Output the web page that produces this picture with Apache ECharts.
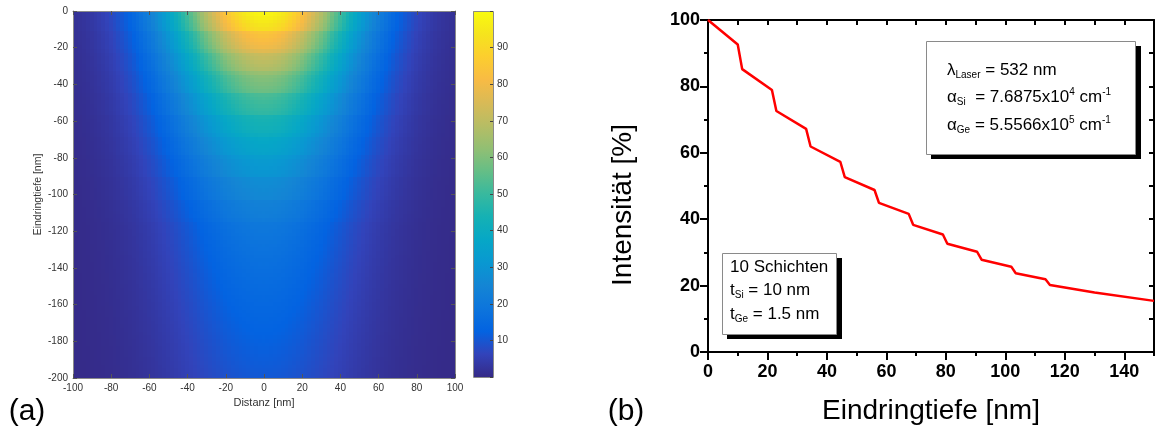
<!DOCTYPE html>
<html><head><meta charset="utf-8">
<script src="https://cdn.jsdelivr.net/npm/echarts@6/dist/echarts.min.js"></script>
<style>html,body{margin:0;padding:0;background:#fff}#c{width:1157px;height:437px}</style>
</head><body><div id="c"></div><script>
// ---------- DATA ----------
// (a) lateral beam profile (relative), x = -100 ... 100 nm, step 2 nm
const lateralProfile = [0.0169,0.0198,0.0232,0.0271,0.0316,0.0367,0.0424,0.0489,0.0561,0.0643,0.0734,0.0835,0.0946,0.1070,0.1205,0.1353,0.1515,0.1690,0.1879,0.2083,0.2301,0.2533,0.2780,0.3042,0.3317,0.3604,0.3905,0.4216,0.4538,0.4868,0.5205,0.5547,0.5892,0.6239,0.6584,0.6926,0.7261,0.7589,0.7905,0.8207,0.8494,0.8761,0.9008,0.9231,0.9429,0.9600,0.9742,0.9854,0.9935,0.9984,1.0000,
0.9984,0.9935,0.9854,0.9742,0.9600,0.9429,0.9231,0.9008,0.8761,0.8494,0.8207,0.7905,0.7589,0.7261,0.6926,0.6584,0.6239,0.5892,0.5547,0.5205,0.4868,0.4538,0.4216,0.3905,0.3604,0.3317,0.3042,0.2780,0.2533,0.2301,0.2083,0.1879,0.1690,0.1515,0.1353,0.1205,0.1070,0.0946,0.0835,0.0734,0.0643,0.0561,0.0489,0.0424,0.0367,0.0316,0.0271,0.0232,0.0198,0.0169];
// (a) intensity [%] on the beam axis vs depth 0 ... 200 nm, step 2 nm
const depthIntensity = [100,98.47,96.97,95.49,94.04,92.60,84.87,83.57,82.30,81.04,79.81,76.73,72.03,70.93,69.85,68.78,67.73,63.58,61.13,60.20,59.28,58.37,57.48,52.68,51.88,51.09,50.31,49.54,48.78,44.71,44.03,43.36,42.70,42.04,40.42,37.95,37.37,36.80,36.24,35.68,33.49,32.20,31.71,31.23,30.75,30.28,27.75,27.33,26.91,26.50,26.10,25.70,23.55,23.19,22.84,22.49,22.15,21.30,19.99,19.69,19.39,19.09,18.80,18.51,18.23,17.95,17.68,17.41,17.14,16.88,16.62,16.37,16.12,15.87,15.63,15.39,15.16,14.93,14.70,14.48,14.26,14.04,13.82,13.61,13.41,13.20,13.00,12.80,12.61,12.41,12.22,12.04,11.85,11.67,11.49,11.32,11.15,10.98,10.81,10.64,10.48];
const GRID_STEP_NM = 2;
const lateralX = lateralProfile.map((_, j) => -100 + GRID_STEP_NM * j);
const depthNm = depthIntensity.map((_, i) => GRID_STEP_NM * i);

// (b) intensity vs penetration depth
const curveDepth = [0,10,11.5,21.5,23,33,34.5,44.5,46,56,57.5,67.5,69,79,80.5,90.5,92,102,103.5,113.5,115,130,150];
const curveIntensity = [100,92.6,85.2,78.9,72.6,67.2,61.9,57.3,52.7,48.8,44.9,41.6,38.3,35.4,32.6,30.2,27.8,25.7,23.7,21.9,20.2,17.9,15.4];

// parula colormap stops
const parula = ['#352a87','#3243ba','#0363e1','#0d75dc','#1485d4','#0998d1','#06a7c6','#15b1b4','#38b99e','#65be86','#92bf73','#b7bd64','#d9ba56','#f8bb44','#fcce2e','#f5e41d','#f9fb0e'];

// ---------- BUILD ----------
const heatData = [];
depthIntensity.forEach((I, i) => {
  lateralProfile.forEach((g, j) => {
    heatData.push([lateralX[j], -depthNm[i], I * g]);
  });
});
const lineData = curveDepth.map((x, i) => [x, curveIntensity[i]]);

const FONT = '"Liberation Sans", Arial, Helvetica, sans-serif';
const half = GRID_STEP_NM / 2;
function renderCell(params, api) {
  const x = api.value(0), y = api.value(1);
  const a = api.coord([x - half, y + half]);
  const b = api.coord([x + half, y - half]);
  const x0 = Math.floor(a[0]), y0 = Math.floor(a[1]);
  return {
    type: 'rect',
    shape: { x: x0, y: y0, width: Math.ceil(b[0]) - x0, height: Math.ceil(b[1]) - y0 },
    style: { fill: api.visual('color') }
  };
}

const matAxisLine = { show: true, onZero: false, lineStyle: { color: '#8a8a8a', width: 1 } };
const matTick = { show: true, inside: true, length: 4, lineStyle: { color: '#555', width: 1 } };
const matLabel = { fontSize: 10, color: '#333', fontFamily: FONT };

const blk = { show: true, onZero: false, lineStyle: { color: '#000', width: 2 } };
const noLine = { show: false, onZero: false };
const boldLabel = { fontSize: 18, fontWeight: 'bold', color: '#000', fontFamily: FONT };

const gradStops = parula.map((c, i) => ({ offset: i / (parula.length - 1), color: c }));

const mainRich = {
  m: { fontSize: 17, lineHeight: 20, fontFamily: FONT, color: '#000' },
  s: { fontSize: 10, lineHeight: 8, fontFamily: FONT, color: '#000', verticalAlign: 'bottom' },
  p: { fontSize: 10, lineHeight: 8, fontFamily: FONT, color: '#000', verticalAlign: 'top' }
};
function richText(x, y, txt) {
  return { type: 'text', x: x, y: y, z: 30, style: { text: txt, rich: mainRich, align: 'left', verticalAlign: 'middle' } };
}

const option = {
  animation: false,
  backgroundColor: '#fff',
  grid: [
    { left: 73, top: 11, width: 382, height: 367 },
    { left: 708, top: 20, width: 446, height: 332 },
    { left: 473, top: 11, width: 20, height: 366 }
  ],
  visualMap: {
    type: 'continuous', show: false, min: 0, max: 100, dimension: 2, seriesIndex: 0,
    inRange: { color: parula }
  },
  xAxis: [
    { gridIndex: 0, type: 'value', min: -100, max: 100, interval: 20, position: 'bottom',
      axisLine: matAxisLine, axisTick: matTick, axisLabel: Object.assign({ margin: 5 }, matLabel), splitLine: { show: false },
      name: 'Distanz [nm]', nameLocation: 'middle', nameGap: 19,
      nameTextStyle: { fontSize: 11, color: '#333', fontFamily: FONT }, z: 10 },
    { gridIndex: 0, type: 'value', min: -100, max: 100, interval: 20, position: 'top',
      axisLine: matAxisLine, axisTick: matTick, axisLabel: { show: false }, splitLine: { show: false }, z: 10 },
    { gridIndex: 1, type: 'value', min: 0, max: 150, interval: 20, position: 'bottom',
      axisLine: blk, axisTick: { show: true, length: 8, lineStyle: { color: '#000', width: 2 } },
      axisLabel: Object.assign({ margin: 11, showMaxLabel: false }, boldLabel), splitLine: { show: false },
      name: 'Eindringtiefe [nm]', nameLocation: 'middle', nameGap: 45,
      nameTextStyle: { fontSize: 28, color: '#000', fontFamily: FONT } },
    { gridIndex: 1, type: 'value', min: 0, max: 150, interval: 10, position: 'bottom',
      axisLine: noLine, axisTick: { show: true, length: 4, lineStyle: { color: '#000', width: 2 } },
      axisLabel: { show: false }, splitLine: { show: false } },
    { gridIndex: 1, type: 'value', min: 0, max: 150, interval: 10, position: 'top',
      axisLine: blk, axisTick: { show: true, inside: true, length: 5, lineStyle: { color: '#000', width: 2 } },
      axisLabel: { show: false }, splitLine: { show: false } },
    { gridIndex: 2, type: 'value', min: 0, max: 1, show: false }
  ],
  yAxis: [
    { gridIndex: 0, type: 'value', min: -200, max: 0, interval: 20, position: 'left',
      axisLine: matAxisLine, axisTick: matTick, axisLabel: Object.assign({ margin: 5 }, matLabel), splitLine: { show: false },
      name: 'Eindringtiefe [nm]', nameLocation: 'middle', nameGap: 28,
      nameTextStyle: { fontSize: 10.5, color: '#333', fontFamily: FONT }, z: 10 },
    { gridIndex: 0, type: 'value', min: -200, max: 0, interval: 20, position: 'right',
      axisLine: matAxisLine, axisTick: matTick, axisLabel: { show: false }, splitLine: { show: false }, z: 10 },
    { gridIndex: 1, type: 'value', min: 0, max: 100, interval: 20, position: 'left',
      axisLine: blk, axisTick: { show: true, length: 8, lineStyle: { color: '#000', width: 2 } },
      axisLabel: Object.assign({ margin: 8 }, boldLabel), splitLine: { show: false } },
    { gridIndex: 1, type: 'value', min: 0, max: 100, interval: 10, position: 'left',
      axisLine: noLine, axisTick: { show: true, length: 4, lineStyle: { color: '#000', width: 2 } },
      axisLabel: { show: false }, splitLine: { show: false } },
    { gridIndex: 1, type: 'value', min: 0, max: 100, interval: 10, position: 'right',
      axisLine: blk, axisTick: { show: true, inside: true, length: 5, lineStyle: { color: '#000', width: 2 } },
      axisLabel: { show: false }, splitLine: { show: false } },
    { gridIndex: 2, type: 'value', min: 0, max: 100, interval: 10, position: 'right',
      axisLine: noLine, axisTick: { show: true, inside: true, length: 3, lineStyle: { color: '#444', width: 1 } },
      axisLabel: Object.assign({ margin: 4, formatter: v => (v > 0 && v < 100 ? String(v) : '') }, matLabel),
      splitLine: { show: false }, z: 40 }
  ],
  series: [
    { type: 'custom', xAxisIndex: 0, yAxisIndex: 0, data: heatData, renderItem: renderCell,
      clip: true, silent: true, progressive: 0, encode: { x: 0, y: 1 } },
    { type: 'line', xAxisIndex: 2, yAxisIndex: 2, data: lineData, showSymbol: false, clip: true,
      lineStyle: { color: '#ff0000', width: 2.5 }, z: 5 }
  ],
  graphic: [
    { type: 'rect', z: 20, shape: { x: 473, y: 11, width: 20, height: 366 },
      style: { fill: { type: 'linear', x: 0, y: 1, x2: 0, y2: 0, colorStops: gradStops } } },
    { type: 'rect', z: 25, shape: { x: 473.5, y: 11.5, width: 20, height: 366 },
      style: { fill: 'none', stroke: '#8a8a8a', lineWidth: 1 } },
    { type: 'text', x: 27, y: 412, z: 30, style: { text: '(a)', fontSize: 30, fontFamily: FONT, fill: '#000', align: 'center', verticalAlign: 'middle' } },
    { type: 'text', x: 626, y: 412, z: 30, style: { text: '(b)', fontSize: 30, fontFamily: FONT, fill: '#000', align: 'center', verticalAlign: 'middle' } },
    { type: 'text', x: 623, y: 205, rotation: Math.PI / 2, z: 30, style: { text: 'Intensität [%]', fontSize: 28, fontFamily: FONT, fill: '#000', align: 'center', verticalAlign: 'middle' } },
    // box 1
    { type: 'rect', z: 26, shape: { x: 931, y: 46, width: 210, height: 113 }, style: { fill: '#000' } },
    { type: 'rect', z: 27, shape: { x: 926.5, y: 41.5, width: 209, height: 113 }, style: { fill: '#fff', stroke: '#8a8a8a', lineWidth: 1 } },
    richText(947, 70, '{m|λ}{s|Laser}{m| = 532 nm}'),
    richText(947, 97, '{m|α}{s|Si}{m|  = 7.6875x10}{p|4}{m| cm}{p|-1}'),
    richText(947, 125, '{m|α}{s|Ge}{m| = 5.5566x10}{p|5}{m| cm}{p|-1}'),
    // box 2
    { type: 'rect', z: 26, shape: { x: 727, y: 258, width: 115, height: 81 }, style: { fill: '#000' } },
    { type: 'rect', z: 27, shape: { x: 722.5, y: 253.5, width: 114, height: 81 }, style: { fill: '#fff', stroke: '#8a8a8a', lineWidth: 1 } },
    richText(730, 267, '{m|10 Schichten}'),
    richText(730, 290, '{m|t}{s|Si}{m| = 10 nm}'),
    richText(730, 314, '{m|t}{s|Ge}{m| = 1.5 nm}')
  ]
};

const chart = echarts.init(document.getElementById('c'), null, { renderer: 'canvas' });
chart.setOption(option);
</script></body></html>
